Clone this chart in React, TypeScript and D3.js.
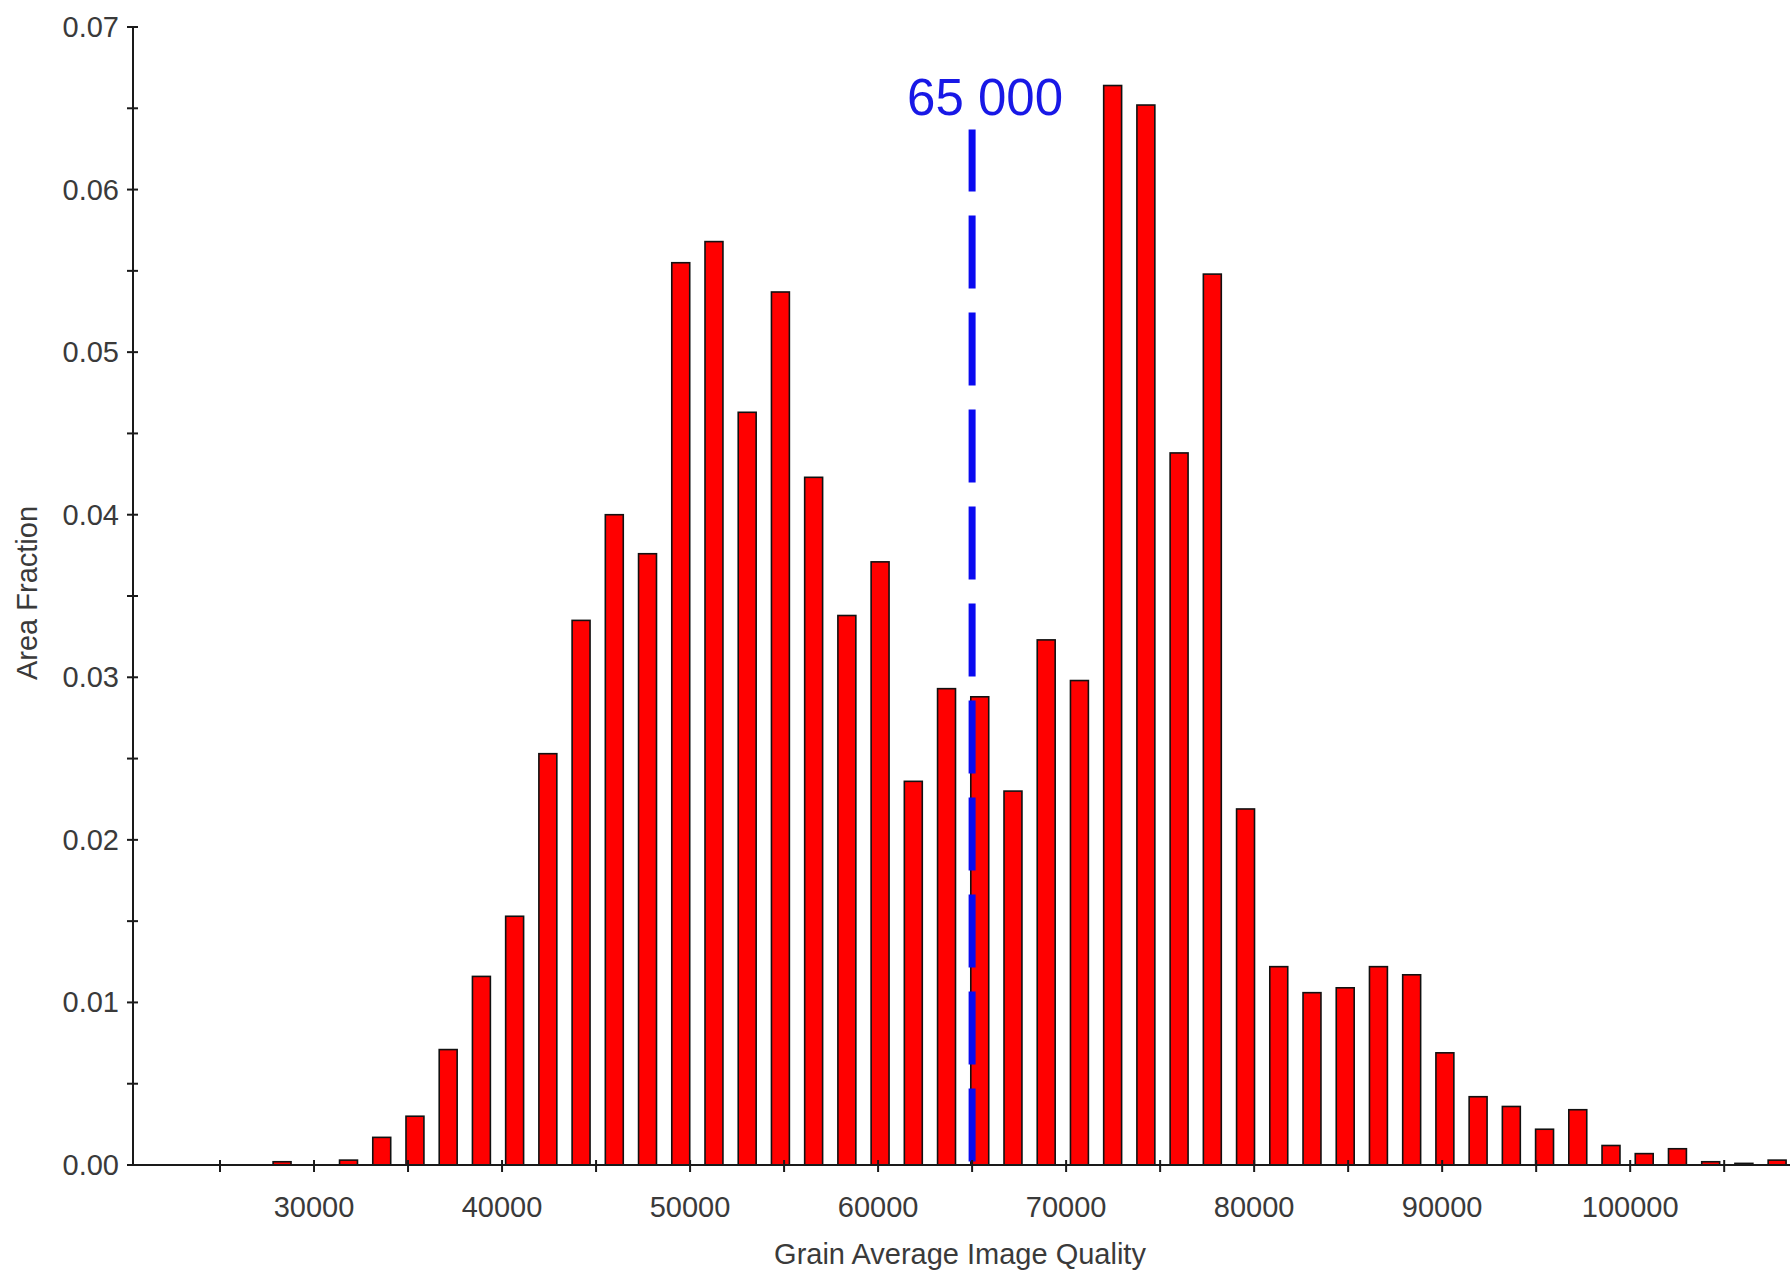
import React from "react";
import * as d3 from "d3";

const W = 1790;
const H = 1272;

// Histogram bins: centre of first bin and bin width (Grain Average Image Quality units)
const binFirstCenter = 28300;
const binWidth = 1767;
const areaFraction = [
  0.0002, 0, 0.0003, 0.0017, 0.003, 0.0071, 0.0116, 0.0153, 0.0253, 0.0335,
  0.04, 0.0376, 0.0555, 0.0568, 0.0463, 0.0537, 0.0423, 0.0338, 0.0371, 0.0236,
  0.0293, 0.0288, 0.023, 0.0323, 0.0298, 0.0664, 0.0652, 0.0438, 0.0548, 0.0219,
  0.0122, 0.0106, 0.0109, 0.0122, 0.0117, 0.0069, 0.0042, 0.0036, 0.0022, 0.0034,
  0.0012, 0.0007, 0.001, 0.0002, 0.0001, 0.0003,
];

const xMajorTicks = [30000, 40000, 50000, 60000, 70000, 80000, 90000, 100000];
const xMinorTicks = [25000, 35000, 45000, 55000, 65000, 75000, 85000, 95000, 105000];
const yMajorTicks = [0, 0.01, 0.02, 0.03, 0.04, 0.05, 0.06, 0.07];
const yMinorTicks = [0.005, 0.015, 0.025, 0.035, 0.045, 0.055, 0.065];

const thresholdValue = 65000;
const thresholdLabel = "65 000";
const thresholdTop = 0.0637;

const xTitle = "Grain Average Image Quality";
const yTitle = "Area Fraction";

export default function App() {
  const x = d3.scaleLinear().domain([20372, 108500]).range([133, 1790]);
  const y = d3.scaleLinear().domain([0, 0.07]).range([1165, 27]);
  const barW = (x(binWidth) - x(0)) * 0.54;
  const font = "'Liberation Sans', Arial, sans-serif";
  const axisColor = "#1a1a1a";
  const labelColor = "#3a3a3a";

  const bars = areaFraction
    .map((v, i) => ({ v, c: binFirstCenter + i * binWidth }))
    .filter((d) => d.v > 0);

  return (
    <svg
      width={W}
      height={H}
      style={{ position: "absolute", left: 0, top: 0, background: "#fff" }}
    >
      <rect x={0} y={0} width={W} height={H} fill="#fff" />
      {/* bars */}
      {bars.map((d, i) => (
        <rect
          key={i}
          x={x(d.c) - barW / 2}
          y={y(d.v)}
          width={barW}
          height={y(0) - y(d.v)}
          fill="#ff0000"
          stroke="#111"
          strokeWidth={1.6}
        />
      ))}
      {/* threshold line */}
      <line
        x1={x(thresholdValue)}
        x2={x(thresholdValue)}
        y1={y(thresholdTop)}
        y2={y(0)}
        stroke="#0a0af0"
        strokeWidth={7}
        strokeDasharray="73 24"
        strokeDashoffset={11}
      />
      <text
        x={x(thresholdValue) + 13}
        y={115}
        textAnchor="middle"
        fontFamily={font}
        fontSize={51}
        fill="#1818e6"
      >
        {thresholdLabel}
      </text>
      {/* x axis */}
      <line x1={x.range()[0]} x2={x.range()[1]} y1={y(0)} y2={y(0)} stroke={axisColor} strokeWidth={2} />
      {[...xMajorTicks, ...xMinorTicks].map((t) => (
        <line key={"xt" + t} x1={x(t)} x2={x(t)} y1={y(0) - 5} y2={y(0) + 7} stroke={axisColor} strokeWidth={2} />
      ))}
      {xMajorTicks.map((t) => (
        <text
          key={"xl" + t}
          x={x(t)}
          y={1217}
          textAnchor="middle"
          fontFamily={font}
          fontSize={29}
          fill={labelColor}
        >
          {String(t)}
        </text>
      ))}
      <text x={960} y={1264} textAnchor="middle" fontFamily={font} fontSize={29} fill={labelColor}>
        {xTitle}
      </text>
      {/* y axis */}
      <line x1={x.range()[0]} x2={x.range()[0]} y1={y(0.07)} y2={y(0)} stroke={axisColor} strokeWidth={2} />
      {[...yMajorTicks, ...yMinorTicks].map((t) => (
        <line key={"yt" + t} x1={x.range()[0] - 6} x2={x.range()[0] + 5} y1={y(t)} y2={y(t)} stroke={axisColor} strokeWidth={2} />
      ))}
      {yMajorTicks.map((t) => (
        <text
          key={"yl" + t}
          x={119}
          y={y(t) + 10}
          textAnchor="end"
          fontFamily={font}
          fontSize={29}
          fill={labelColor}
        >
          {d3.format(".2f")(t)}
        </text>
      ))}
      <text
        transform={`translate(37, 593) rotate(-90)`}
        textAnchor="middle"
        fontFamily={font}
        fontSize={29}
        fill={labelColor}
      >
        {yTitle}
      </text>
    </svg>
  );
}
